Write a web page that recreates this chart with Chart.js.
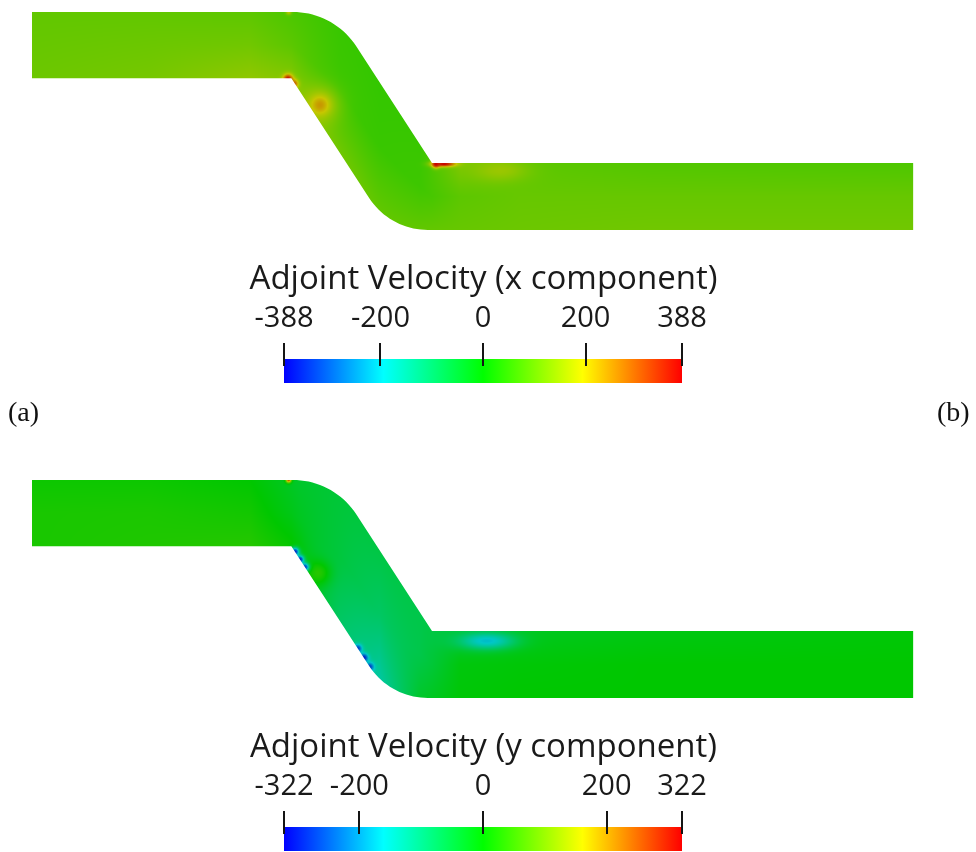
<!DOCTYPE html>
<html>
<head>
<meta charset="utf-8">
<script src="https://cdn.jsdelivr.net/npm/chart.js@4.4.1/dist/chart.umd.min.js"></script>
<style>
  html, body { margin: 0; padding: 0; background: #ffffff; }
  #page { position: relative; width: 976px; height: 852px; overflow: hidden; background: #ffffff; }
  #page canvas { position: absolute; left: 0; }
  .sub { position: absolute; font-family: "Liberation Serif", "DejaVu Serif", serif; font-size: 28px; color: #111; line-height: 1; }
</style>
</head>
<body>
<div id="page">
  <canvas id="fieldX" width="976" height="240" style="top:0px"></canvas>
  <canvas id="barX" width="976" height="160" style="top:240px"></canvas>
  <span class="sub" style="left:8px; top:398px">(a)</span>
  <span class="sub" style="left:937px; top:398px">(b)</span>
  <canvas id="fieldY" width="976" height="240" style="top:468px"></canvas>
  <canvas id="barY" width="976" height="144" style="top:708px"></canvas>
</div>
<script>
// ---------- channel geometry (mm, y measured downward) ----------
const INLET_H = 9.95;          // inlet channel height
const OUTLET_TOP = 22.71;      // outlet upper wall
const OUTLET_BOT = 32.78;      // outlet lower wall
const X_END = 132.5;           // outlet exit plane
const CORNER_A = [39.0, INLET_H];     // inner corner, inlet -> sloped section
const CORNER_B = [60.15, OUTLET_TOP]; // inner corner, sloped section -> outlet
const SLOPE_DEG = 57;          // inclination of the sloped section
const R_OUTER_TOP = 11.35;     // outer bend radius at the first bend
const R_OUTER_BOT = 10.5;      // outer bend radius at the second bend
const VIEW_X = [-4.81, 141.95];
const VIEW_Y = [-1.80, 34.29];

// ---------- field samples: stations along x, values at upper wall / centre / lower wall ----------
const stations = [0, 17.7, 32.8, 40.3, 46.3, 52.3, 58.3, 64.4, 73.4, 93.0, 132.5];

// x component of adjoint velocity
const uxTop = [95, 95, 90, 70, 55, 50, 55, 120, 90, 80, 75];
const uxMid = [100, 105, 110, 85, 60, 55, 60, 90, 100, 100, 100];
const uxBot = [105, 115, 140, 125, 110, 95, 95, 100, 105, 110, 110];
// local features: [x, y, value, spreadX, spreadY]
const uxSpots = [
  [43.3, 14.0, 170, 2.0, 2.0],
  [43.3, 14.0, 240, 0.9, 0.9],
  [38.5, 10.1, 388, 0.5, 0.5],
  [39.4, 10.8, 300, 0.45, 0.45],
  [70.4, 23.8, 150, 3.0, 1.2],
  [60.75, 22.86, 388, 0.4, 0.4],
  [61.95, 22.86, 388, 1.2, 0.3],
  [38.6, 0.0, 180, 0.3, 0.3]
];
const uxRange = [-388, 388];
const uxTicks = [-388, -200, 0, 200, 388];

// y component of adjoint velocity
const uyTop = [10, 10, 0, -35, -45, -55, -60, -40, -25, -15, -5];
const uyMid = [20, 22, 15, -25, -50, -80, -60, -10, -5, 0, 0];
const uyBot = [20, 25, 30, 0, -80, -130, -35, -5, 0, 0, 0];
const uySpots = [
  [43.0, 14.0, 30, 1.3, 1.3],
  [68.4, 24.2, -170, 3.0, 0.9],
  [39.55, 10.8, -290, 0.45, 0.45],
  [40.3, 11.95, -290, 0.45, 0.45],
  [41.05, 13.1, -270, 0.45, 0.45],
  [49.0, 25.35, -270, 0.45, 0.45],
  [49.9, 26.75, -300, 0.45, 0.45],
  [50.8, 28.1, -270, 0.45, 0.45],
  [38.6, 0.0, 250, 0.3, 0.3]
];
const uyRange = [-322, 322];
const uyTicks = [-322, -200, 0, 200, 322];

// ---------- derived geometry ----------
const th = SLOPE_DEG * Math.PI / 180;
const sinT = Math.sin(th), cosT = Math.cos(th), tanT = Math.tan(th);
const cxTop = CORNER_B[0] - (R_OUTER_TOP - cosT * (R_OUTER_TOP - CORNER_B[1])) / sinT;
const cxBot = CORNER_A[0] + (R_OUTER_BOT + cosT * (OUTLET_BOT - R_OUTER_BOT - CORNER_A[1])) / sinT;
const txTop = cxTop + R_OUTER_TOP * sinT;
const txBot = cxBot - R_OUTER_BOT * sinT;

function wallTop(x) {
  if (x <= cxTop) return 0;
  if (x <= txTop) { const d = x - cxTop; return R_OUTER_TOP - Math.sqrt(Math.max(0, R_OUTER_TOP * R_OUTER_TOP - d * d)); }
  if (x <= CORNER_B[0]) return CORNER_B[1] - (CORNER_B[0] - x) * tanT;
  return OUTLET_TOP;
}
function wallBottom(x) {
  if (x <= CORNER_A[0]) return INLET_H;
  if (x <= txBot) return CORNER_A[1] + (x - CORNER_A[0]) * tanT;
  if (x <= cxBot) { const d = x - cxBot; return OUTLET_BOT - R_OUTER_BOT + Math.sqrt(Math.max(0, R_OUTER_BOT * R_OUTER_BOT - d * d)); }
  return OUTLET_BOT;
}

function channelOutline() {
  const pts = [{x: 0, y: 0}];
  for (let a = -90; a <= SLOPE_DEG - 90 + 1e-9; a += 3) {
    const r = a * Math.PI / 180;
    pts.push({x: cxTop + R_OUTER_TOP * Math.cos(r), y: R_OUTER_TOP + R_OUTER_TOP * Math.sin(r)});
  }
  pts.push({x: CORNER_B[0], y: CORNER_B[1]});
  pts.push({x: X_END, y: OUTLET_TOP});
  pts.push({x: X_END, y: OUTLET_BOT});
  for (let a = 90; a <= 90 + SLOPE_DEG + 1e-9; a += 3) {
    const r = a * Math.PI / 180;
    pts.push({x: cxBot + R_OUTER_BOT * Math.cos(r), y: OUTLET_BOT - R_OUTER_BOT + R_OUTER_BOT * Math.sin(r)});
  }
  pts.push({x: CORNER_A[0], y: CORNER_A[1]});
  pts.push({x: 0, y: INLET_H});
  return pts;
}

// ---------- colour map (blue - cyan - green - yellow - red) ----------
const JET = [[0, 0, 255], [0, 255, 255], [0, 255, 0], [255, 255, 0], [255, 0, 0]];
function jet(p) {
  p = Math.min(1, Math.max(0, p)) * 4;
  const k = Math.min(3, Math.floor(p)), f = p - k;
  return JET[k].map((c, i) => c + (JET[k + 1][i] - c) * f);
}
const SHADE = 0.78;

function sampleField(o, x, y, yt, yb) {
  let k = 0;
  while (k < o.stations.length - 2 && x > o.stations[k + 1]) k++;
  const x0 = o.stations[k], x1 = o.stations[k + 1];
  const f = Math.min(1, Math.max(0, (x - x0) / (x1 - x0)));
  const vt = o.top[k] + (o.top[k + 1] - o.top[k]) * f;
  const vm = o.mid[k] + (o.mid[k + 1] - o.mid[k]) * f;
  const vb = o.bot[k] + (o.bot[k + 1] - o.bot[k]) * f;
  const t = Math.min(1, Math.max(0, (y - yt) / (yb - yt)));
  let v = t < 0.5 ? vt + (vm - vt) * t * 2 : vm + (vb - vm) * (t - 0.5) * 2;
  for (const s of o.spots) {
    const dx = (x - s[0]) / s[3], dy = (y - s[1]) / s[4];
    const w = Math.exp(-(dx * dx + dy * dy) / 2);
    v += (s[2] - v) * w;
  }
  return v;
}

// paints the sampled field inside the channel outline given by dataset 0
const channelField = {
  id: 'channelField',
  beforeDatasetsDraw(chart, args, o) {
    const xs = chart.scales.x, ys = chart.scales.y;
    const w = chart.width, h = chart.height;
    const off = document.createElement('canvas');
    off.width = w; off.height = h;
    const octx = off.getContext('2d');
    const img = octx.createImageData(w, h);
    const span = o.range[1] - o.range[0];
    for (let i = 0; i < w; i++) {
      const xm = xs.getValueForPixel(i + 0.5);
      if (xm < -0.5 || xm > X_END + 0.5) continue;
      const yt = wallTop(xm), yb = wallBottom(xm);
      for (let j = 0; j < h; j++) {
        const ym = ys.getValueForPixel(j + 0.5);
        if (ym < yt - 0.5 || ym > yb + 0.5) continue;
        const v = sampleField(o, xm, ym, yt, yb);
        const c = jet((v - o.range[0]) / span);
        const idx = (j * w + i) * 4;
        img.data[idx] = c[0] * SHADE;
        img.data[idx + 1] = c[1] * SHADE;
        img.data[idx + 2] = c[2] * SHADE;
        img.data[idx + 3] = 255;
      }
    }
    octx.putImageData(img, 0, 0);
    const pts = chart.getDatasetMeta(0).data;
    const ctx = chart.ctx;
    ctx.save();
    ctx.beginPath();
    pts.forEach((p, k) => k ? ctx.lineTo(p.x, p.y) : ctx.moveTo(p.x, p.y));
    ctx.closePath();
    ctx.clip();
    ctx.drawImage(off, 0, 0);
    ctx.restore();
  }
};

function fieldChart(id, top, mid, bot, spots, range) {
  return new Chart(document.getElementById(id), {
    type: 'scatter',
    data: { datasets: [{ data: channelOutline(), showLine: false, pointRadius: 0, borderWidth: 0 }] },
    options: {
      responsive: false, animation: false, events: [],
      layout: { padding: 0 },
      plugins: {
        legend: { display: false }, tooltip: { enabled: false },
        channelField: { stations, top, mid, bot, spots, range }
      },
      scales: {
        x: { type: 'linear', display: false, min: VIEW_X[0], max: VIEW_X[1] },
        y: { type: 'linear', display: false, reverse: true, min: VIEW_Y[0], max: VIEW_Y[1] }
      }
    },
    plugins: [channelField]
  });
}

// tick marks crossing into the top of the colour bar
const barTickMarks = {
  id: 'barTickMarks',
  afterDatasetsDraw(chart) {
    const xs = chart.scales.x, area = chart.chartArea, ctx = chart.ctx;
    ctx.save();
    ctx.strokeStyle = '#151515';
    ctx.lineWidth = 2;
    xs.ticks.forEach(t => {
      const px = Math.round(xs.getPixelForValue(t.value));
      ctx.beginPath();
      ctx.moveTo(px, area.top - 16);
      ctx.lineTo(px, area.top + 7);
      ctx.stroke();
    });
    ctx.restore();
  }
};

const LABEL_FONT = '"Open Sans", "DejaVu Sans", sans-serif';

// empty side axes that fix the width of the colour bar
function spacerAxis(position, width) {
  return {
    type: 'category', position, display: true,
    ticks: { display: false }, grid: { display: false }, border: { display: false },
    afterFit: (s) => { s.width = width; }
  };
}

function colorBar(id, title, range, tickVals, padBottom) {
  return new Chart(document.getElementById(id), {
    type: 'bar',
    data: {
      labels: [title],
      datasets: [{
        data: [range],
        borderWidth: 0, borderSkipped: false,
        barPercentage: 1, categoryPercentage: 1,
        backgroundColor: (c) => {
          const ch = c.chart;
          if (!ch.chartArea) return '#00ff00';
          const xs = ch.scales.x;
          const g = ch.ctx.createLinearGradient(xs.getPixelForValue(range[0]), 0, xs.getPixelForValue(range[1]), 0);
          JET.forEach((col, k) => g.addColorStop(k / 4, `rgb(${col[0]},${col[1]},${col[2]})`));
          return g;
        }
      }]
    },
    options: {
      indexAxis: 'y', responsive: false, animation: false, events: [],
      layout: { padding: { left: 195, right: 204, top: 15.7, bottom: padBottom } },
      plugins: {
        legend: { display: false }, tooltip: { enabled: false },
        title: {
          display: true, text: title, fullSize: true,
          font: { family: LABEL_FONT, size: 33, weight: 'normal' }, color: '#1a1a1a',
          padding: { top: 4, bottom: 0 }
        }
      },
      scales: {
        x: {
          type: 'linear', position: 'top', min: range[0], max: range[1],
          afterBuildTicks: (s) => { s.ticks = tickVals.map(v => ({ value: v })); },
          afterFit: (s) => { s.height = 59.7; },
          grid: { display: false, drawTicks: false },
          border: { display: false },
          ticks: {
            autoSkip: false, maxRotation: 0, padding: 23,
            font: { family: LABEL_FONT, size: 29 }, color: '#1a1a1a',
            callback: (v) => String(v)
          }
        },
        y: spacerAxis('left', 89),
        yRight: spacerAxis('right', 90)
      }
    },
    plugins: [barTickMarks]
  });
}

fieldChart('fieldX', uxTop, uxMid, uxBot, uxSpots, uxRange);
colorBar('barX', 'Adjoint Velocity (x component)', uxRange, uxTicks, 17);
fieldChart('fieldY', uyTop, uyMid, uyBot, uySpots, uyRange);
colorBar('barY', 'Adjoint Velocity (y component)', uyRange, uyTicks, 1);
</script>
</body>
</html>
